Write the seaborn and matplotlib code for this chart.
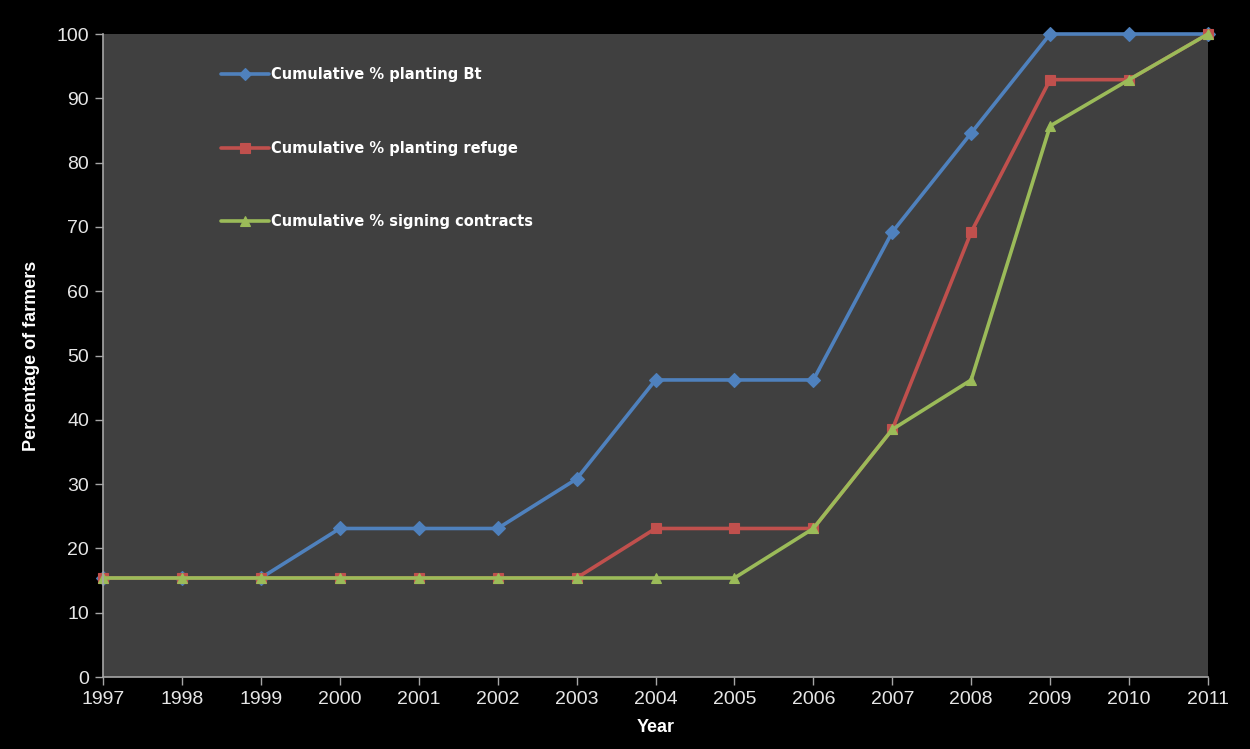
import matplotlib
matplotlib.use("Agg")
import matplotlib.pyplot as plt
import seaborn as sns
import pandas as pd

years = list(range(1997, 2012))
planting_bt = [15.4, 15.4, 15.4, 23.1, 23.1, 23.1, 30.8, 46.2, 46.2, 46.2, 69.2, 84.6, 100.0, 100.0, 100.0]
planting_refuge = [15.4, 15.4, 15.4, 15.4, 15.4, 15.4, 15.4, 23.1, 23.1, 23.1, 38.5, 69.2, 92.9, 92.9, 100.0]
signing_contracts = [15.4, 15.4, 15.4, 15.4, 15.4, 15.4, 15.4, 15.4, 15.4, 23.1, 38.5, 46.2, 85.7, 92.9, 100.0]

series_names = ["Cumulative % planting Bt",
                "Cumulative % planting refuge",
                "Cumulative % signing contracts"]
series_values = [planting_bt, planting_refuge, signing_contracts]
y_ticks = list(range(0, 101, 10))

df = pd.DataFrame({
    "Year": years * 3,
    "Percent": planting_bt + planting_refuge + signing_contracts,
    "Series": sum([[n] * len(years) for n in series_names], []),
})

sns.set_theme(style="white")
plt.rcParams["font.family"] = ["Liberation Sans", "DejaVu Sans"]

palette = {series_names[0]: "#4F81BD",
           series_names[1]: "#C0504D",
           series_names[2]: "#9BBB59"}
markers = {series_names[0]: "D", series_names[1]: "s", series_names[2]: "^"}

fig = plt.figure(figsize=(12.5, 7.49), dpi=100, facecolor="black")
ax = fig.add_axes([0.0824, 0.0961, 0.8840, 0.8585])
ax.set_facecolor("#404040")

sns.lineplot(data=df, x="Year", y="Percent", hue="Series", style="Series",
             palette=palette, markers=markers, dashes=False, linewidth=2.6,
             markersize=7, markeredgewidth=0.8, ax=ax, clip_on=False)
for line in ax.lines:
    line.set_markeredgecolor(line.get_color())

ax.set_xlim(1997, 2011)
ax.set_ylim(0, 100)
ax.set_xticks(years)
ax.set_xticklabels([str(y) for y in years])
ax.set_yticks(y_ticks)

for side in ["top", "right"]:
    ax.spines[side].set_visible(False)
for side in ["left", "bottom"]:
    ax.spines[side].set_color("#a6a6a6")
    ax.spines[side].set_linewidth(1.2)

ax.tick_params(axis="both", which="major", direction="out", length=6,
               width=1, color="#a6a6a6", labelcolor="#e6e6e6",
               labelsize=14, pad=4, bottom=True, left=True)

ax.set_xlabel("Year", color="white", fontsize=13, fontweight="bold", labelpad=8)
ax.set_ylabel("Percentage of farmers", color="white", fontsize=13,
              fontweight="bold", labelpad=12)

leg = ax.legend(loc="upper left", bbox_to_anchor=(0.1, 0.96), frameon=False,
                handlelength=3.3, handletextpad=0.12, labelspacing=4.02,
                borderpad=0, numpoints=1,
                prop={"family": "DejaVu Sans", "weight": "bold", "size": 10.5})
for txt in leg.get_texts():
    txt.set_color("white")
for h in leg.legend_handles:
    h.set_markersize(6.5)

fig.savefig("out.png", dpi=100, facecolor="black")
